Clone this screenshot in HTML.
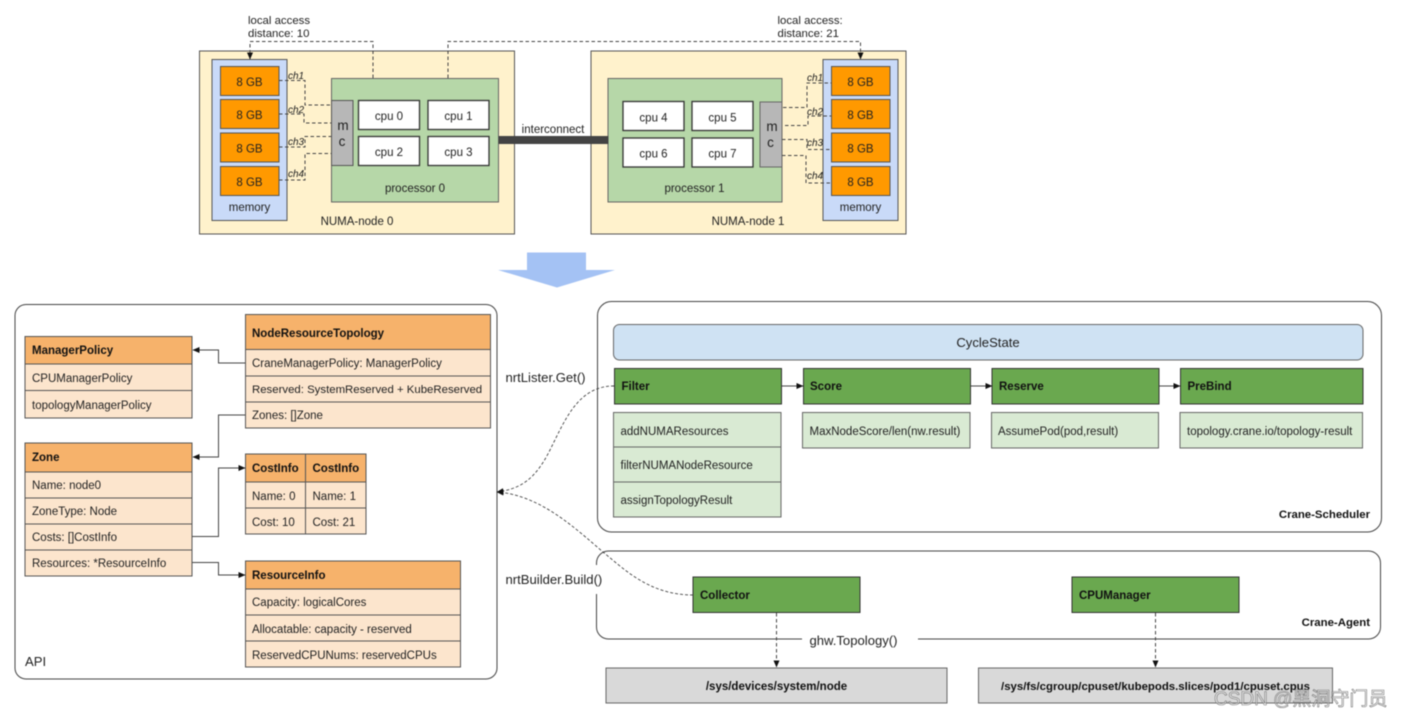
<!DOCTYPE html>
<html><head><meta charset="utf-8"><style>
html,body{margin:0;padding:0;background:#fff;width:1402px;height:718px;overflow:hidden}
svg{display:block;filter:blur(.45px)}
text{font-family:"Liberation Sans",sans-serif;fill:#222;font-size:11.5px}
.b{font-weight:bold;fill:#111}
.c{text-anchor:middle}
.ch{font-style:italic;font-size:10px}
.h{fill:#f6b26b;stroke:#555;stroke-width:1}
.r{fill:#fce5cd;stroke:#555;stroke-width:1}
.g{fill:#6aa84f;stroke:#333;stroke-width:1}
.lg{fill:#d9ead3;stroke:#666;stroke-width:1}
.o{fill:#ff9900;stroke:#555;stroke-width:1}
.w{fill:#fff;stroke:#333;stroke-width:1.3}
.d{fill:none;stroke:#444;stroke-width:1;stroke-dasharray:3.5 2.5}
.l{fill:none;stroke:#444;stroke-width:1}
.gr{fill:#d9d9d9;stroke:#666;stroke-width:1}
.big{font-size:13.1px}
.s{font-size:11.4px}
</style></head><body>
<svg width="1402" height="718" viewBox="0 0 1402 718" xmlns="http://www.w3.org/2000/svg">
<defs><marker id="a" markerWidth="7" markerHeight="6" refX="6.5" refY="3" orient="auto" markerUnits="userSpaceOnUse"><path d="M0 0L7 3L0 6z" fill="#111"/></marker></defs>

<!-- NUMA 0 -->
<rect x="199.5" y="51" width="315" height="183" fill="#fff2cc" stroke="#555"/>
<rect x="212" y="59.5" width="75" height="161" fill="#c9daf8" stroke="#555"/>
<rect class="o" x="220.500" y="66.500" width="58.500" height="29"/><rect class="o" x="220.500" y="99.500" width="58.500" height="29"/><rect class="o" x="220.500" y="133" width="58.500" height="29"/><rect class="o" x="220.500" y="166.500" width="58.500" height="29"/>
<text class="c" x="249.500" y="86">8 GB</text><text class="c" x="249.500" y="119">8 GB</text><text class="c" x="249.500" y="152.500">8 GB</text><text class="c" x="249.500" y="186">8 GB</text>
<text class="c" x="249.500" y="211">memory</text>
<rect x="331.500" y="78.500" width="167" height="123.500" fill="#b6d7a8" stroke="#666"/>
<rect x="331.500" y="100.500" width="21.500" height="65" fill="#b7b7b7" stroke="#555"/>
<text class="c" x="343" y="130" style="font-size:13.5px">m</text><text class="c" x="342" y="146" style="font-size:13.5px">c</text>
<rect class="w" x="358.500" y="100.500" width="61" height="29"/><rect class="w" x="428" y="100.500" width="61" height="29"/><rect class="w" x="358.500" y="136.500" width="61" height="29"/><rect class="w" x="428" y="136.500" width="61" height="29"/>
<text class="c" x="389" y="120">cpu 0</text><text class="c" x="458.500" y="120">cpu 1</text><text class="c" x="389" y="156">cpu 2</text><text class="c" x="458.500" y="156">cpu 3</text>
<text class="c" x="415" y="192">processor 0</text>
<text class="c" x="357" y="225">NUMA-node 0</text>
<path class="d" d="M279 80.500H305V105H331"/><path class="d" d="M279 114H304V123H331"/><path class="d" d="M279 147H305V136.500H331"/><path class="d" d="M279 180H305V153.500H331"/>
<text class="ch" x="288" y="79">ch1</text><text class="ch" x="288" y="113">ch2</text><text class="ch" x="288" y="145">ch3</text><text class="ch" x="288" y="177">ch4</text>

<!-- NUMA 1 -->
<rect x="591" y="51" width="315" height="183" fill="#fff2cc" stroke="#555"/>
<rect x="823" y="59.500" width="75" height="161" fill="#c9daf8" stroke="#555"/>
<rect class="o" x="831.500" y="66.500" width="58.500" height="29"/><rect class="o" x="831.500" y="99.500" width="58.500" height="29"/><rect class="o" x="831.500" y="133" width="58.500" height="29"/><rect class="o" x="831.500" y="166.500" width="58.500" height="29"/>
<text class="c" x="860.500" y="86">8 GB</text><text class="c" x="860.500" y="119">8 GB</text><text class="c" x="860.500" y="152.500">8 GB</text><text class="c" x="860.500" y="186">8 GB</text>
<text class="c" x="860.500" y="211">memory</text>
<rect x="608" y="78.500" width="174" height="123.500" fill="#b6d7a8" stroke="#666"/>
<rect x="760" y="102" width="22" height="65" fill="#b7b7b7" stroke="#666"/>
<text class="c" x="772" y="131" style="font-size:13.5px">m</text><text class="c" x="770.500" y="147" style="font-size:13.5px">c</text>
<rect class="w" x="623" y="101.500" width="61" height="29"/><rect class="w" x="692" y="101.500" width="61" height="29"/><rect class="w" x="623" y="138" width="61" height="29"/><rect class="w" x="692" y="138" width="61" height="29"/>
<text class="c" x="653.500" y="121.500">cpu 4</text><text class="c" x="722.500" y="121.500">cpu 5</text><text class="c" x="653.500" y="157.500">cpu 6</text><text class="c" x="722.500" y="157.500">cpu 7</text>
<text class="c" x="694.500" y="192">processor 1</text>
<text class="c" x="748" y="225">NUMA-node 1</text>
<path class="d" d="M783 107.500H807V83H831"/><path class="d" d="M785 125.500H808V116H831"/><path class="d" d="M782 139.500H807V149.500H831"/><path class="d" d="M782 155.500H806V183H831"/>
<text class="ch" x="807" y="81">ch1</text><text class="ch" x="807" y="115">ch2</text><text class="ch" x="807" y="146">ch3</text><text class="ch" x="807" y="179">ch4</text>

<!-- interconnect -->
<rect x="498.500" y="136" width="110" height="8" fill="#434343"/>
<text class="c" x="553" y="133">interconnect</text>
<path class="d" d="M373 78V41.500H250V59" marker-end="url(#a)"/>
<path class="d" d="M448 78V41.500H860.500V59" marker-end="url(#a)"/>
<text class="s" x="248" y="24">local access</text><text class="s" x="248" y="37">distance: 10</text>
<text class="s" x="777.500" y="24">local access:</text><text class="s" x="777.500" y="37">distance: 21</text>

<!-- big arrow -->
<path d="M527 252.500H586V270H615L557 287.500L498 270H527z" fill="#a4c2f4"/>

<!-- API -->
<rect x="15" y="304.500" width="482" height="374.500" rx="11" fill="#fff" stroke="#444"/>
<text class="big" x="25" y="666">API</text>

<!-- ManagerPolicy -->
<rect class="h" x="25" y="336.500" width="167" height="27.500"/><rect class="r" x="25" y="364" width="167" height="26.500"/><rect class="r" x="25" y="390.500" width="167" height="27.500"/>
<text class="b" x="32" y="354">ManagerPolicy</text><text x="32" y="382">CPUManagerPolicy</text><text x="32" y="409">topologyManagerPolicy</text>

<!-- NRT -->
<rect class="h" x="245.500" y="314.500" width="245" height="35"/><rect class="r" x="245.500" y="349.500" width="245" height="26.500"/><rect class="r" x="245.500" y="376" width="245" height="26"/><rect class="r" x="245.500" y="402" width="245" height="26"/>
<text class="b" x="252" y="337">NodeResourceTopology</text><text x="252" y="367">CraneManagerPolicy: ManagerPolicy</text><text x="252" y="393" style="font-size:11.4px">Reserved: SystemReserved + KubeReserved</text><text x="252" y="419">Zones: []Zone</text>

<!-- Zone -->
<rect class="h" x="25" y="443" width="167" height="29"/><rect class="r" x="25" y="472" width="167" height="26"/><rect class="r" x="25" y="498" width="167" height="26"/><rect class="r" x="25" y="524" width="167" height="26"/><rect class="r" x="25" y="550" width="167" height="26"/>
<text class="b" x="32" y="461">Zone</text><text x="32" y="489">Name: node0</text><text x="32" y="515">ZoneType: Node</text><text x="32" y="541">Costs: []CostInfo</text><text x="32" y="567">Resources: *ResourceInfo</text>

<!-- CostInfo -->
<rect class="h" x="245.500" y="454" width="60" height="28"/><rect class="h" x="305.500" y="454" width="60.500" height="28"/>
<rect class="r" x="245.500" y="482" width="60" height="26"/><rect class="r" x="305.500" y="482" width="60.500" height="26"/><rect class="r" x="245.500" y="508" width="60" height="26"/><rect class="r" x="305.500" y="508" width="60.500" height="26"/>
<text class="b" x="252" y="472">CostInfo</text><text class="b" x="312.500" y="472">CostInfo</text><text x="252" y="500">Name: 0</text><text x="312.500" y="500">Name: 1</text><text x="252" y="526">Cost: 10</text><text x="312.500" y="526">Cost: 21</text>

<!-- ResourceInfo -->
<rect class="h" x="245.500" y="561" width="215" height="28"/><rect class="r" x="245.500" y="589" width="215" height="26"/><rect class="r" x="245.500" y="615" width="215" height="26"/><rect class="r" x="245.500" y="641" width="215" height="26"/>
<text class="b" x="252" y="579">ResourceInfo</text><text x="252" y="606">Capacity: logicalCores</text><text x="252" y="633">Allocatable: capacity - reserved</text><text x="252" y="659">ReservedCPUNums: reservedCPUs</text>

<path class="l" d="M245 363H218.500V350H193" marker-end="url(#a)"/>
<path class="l" d="M245 415H218.500V457H193" marker-end="url(#a)"/>
<path class="l" d="M192 536.500H218.500V468H245" marker-end="url(#a)"/>
<path class="l" d="M192 562.500H218.500V575H245" marker-end="url(#a)"/>

<!-- Scheduler -->
<rect x="597.500" y="301.500" width="784" height="230.500" rx="14" fill="#fff" stroke="#444"/>
<rect x="613.500" y="324.500" width="749.500" height="35.500" rx="6" fill="#cfe2f3" stroke="#666"/>
<text class="c big" x="988" y="347">CycleState</text>
<rect class="g" x="614.500" y="368.500" width="167" height="35.500"/><rect class="g" x="803.500" y="368.500" width="167" height="35.500"/><rect class="g" x="992" y="368.500" width="167" height="35.500"/><rect class="g" x="1180.500" y="368.500" width="182.500" height="35.500"/>
<text class="b" x="621.500" y="390">Filter</text><text class="b" x="810" y="390">Score</text><text class="b" x="999" y="390">Reserve</text><text class="b" x="1187.500" y="390">PreBind</text>
<path class="l" d="M782 386H803" marker-end="url(#a)"/><path class="l" d="M971 386H992" marker-end="url(#a)"/><path class="l" d="M1159 386H1180" marker-end="url(#a)"/>
<rect class="lg" x="613.500" y="412.500" width="167.500" height="34.500"/><rect class="lg" x="613.500" y="447" width="167.500" height="35"/><rect class="lg" x="613.500" y="482" width="167.500" height="35"/>
<text x="620.500" y="435">addNUMAResources</text><text x="620.500" y="469">filterNUMANodeResource</text><text x="620.500" y="504">assignTopologyResult</text>
<rect class="lg" x="802.500" y="412.500" width="167.500" height="35.500"/><rect class="lg" x="991.500" y="412.500" width="167" height="35.500"/><rect class="lg" x="1180" y="412.500" width="182.500" height="35.500"/>
<text x="809.500" y="435">MaxNodeScore/len(nw.result)</text><text x="998" y="435">AssumePod(pod,result)</text><text x="1187" y="435">topology.crane.io/topology-result</text>
<text class="b" x="1370" y="518" style="text-anchor:end;font-size:11.4px">Crane-Scheduler</text>

<!-- Agent -->
<rect x="596.500" y="551" width="784" height="88" rx="12" fill="#fff" stroke="#444"/>
<rect x="500" y="565" width="101" height="29" fill="#fff"/>
<rect x="802" y="634" width="116" height="10" fill="#fff"/>
<text class="c big" x="853.500" y="645">ghw.Topology()</text>
<rect class="g" x="693" y="577" width="167" height="35.500"/><rect class="g" x="1072" y="577" width="167" height="35.500"/>
<text class="b" x="700" y="599">Collector</text><text class="b" x="1079" y="599">CPUManager</text>
<text class="b" x="1370" y="626" style="text-anchor:end;font-size:11.4px">Crane-Agent</text>
<path class="d" d="M776.500 613V667" marker-end="url(#a)"/><path class="d" d="M1155.500 613V667" marker-end="url(#a)"/>
<rect class="gr" x="606" y="668" width="341" height="35"/><rect class="gr" x="978.500" y="668" width="354" height="35"/>
<text class="b c" x="776.500" y="690">/sys/devices/system/node</text><text class="b c" x="1155.500" y="690" style="font-size:11.4px">/sys/fs/cgroup/cpuset/kubepods.slices/pod1/cpuset.cpus</text>

<!-- dashed curves -->
<path class="d" d="M614 386C578 386 565 420 550 450C535 480 520 489 497 492" marker-end="url(#a)" style="stroke-width:.9;stroke-dasharray:3 2"/>
<path class="d" d="M693 595C650 595 625 570 603 552C575 528 540 495 497 492" marker-end="url(#a)" style="stroke-width:.9;stroke-dasharray:3 2"/>
<text class="big" x="505.500" y="382">nrtLister.Get()</text>
<text class="big" x="505.500" y="584">nrtBuilder.Build()</text>

<!-- watermark -->
<text x="1214" y="705" style="font-family:'Liberation Sans','Noto Sans CJK SC',sans-serif;font-size:19px;fill:#fff;stroke:#777;stroke-width:.6;fill-opacity:.45">CSDN @黑洞守门员</text>
</svg>
</body></html>
